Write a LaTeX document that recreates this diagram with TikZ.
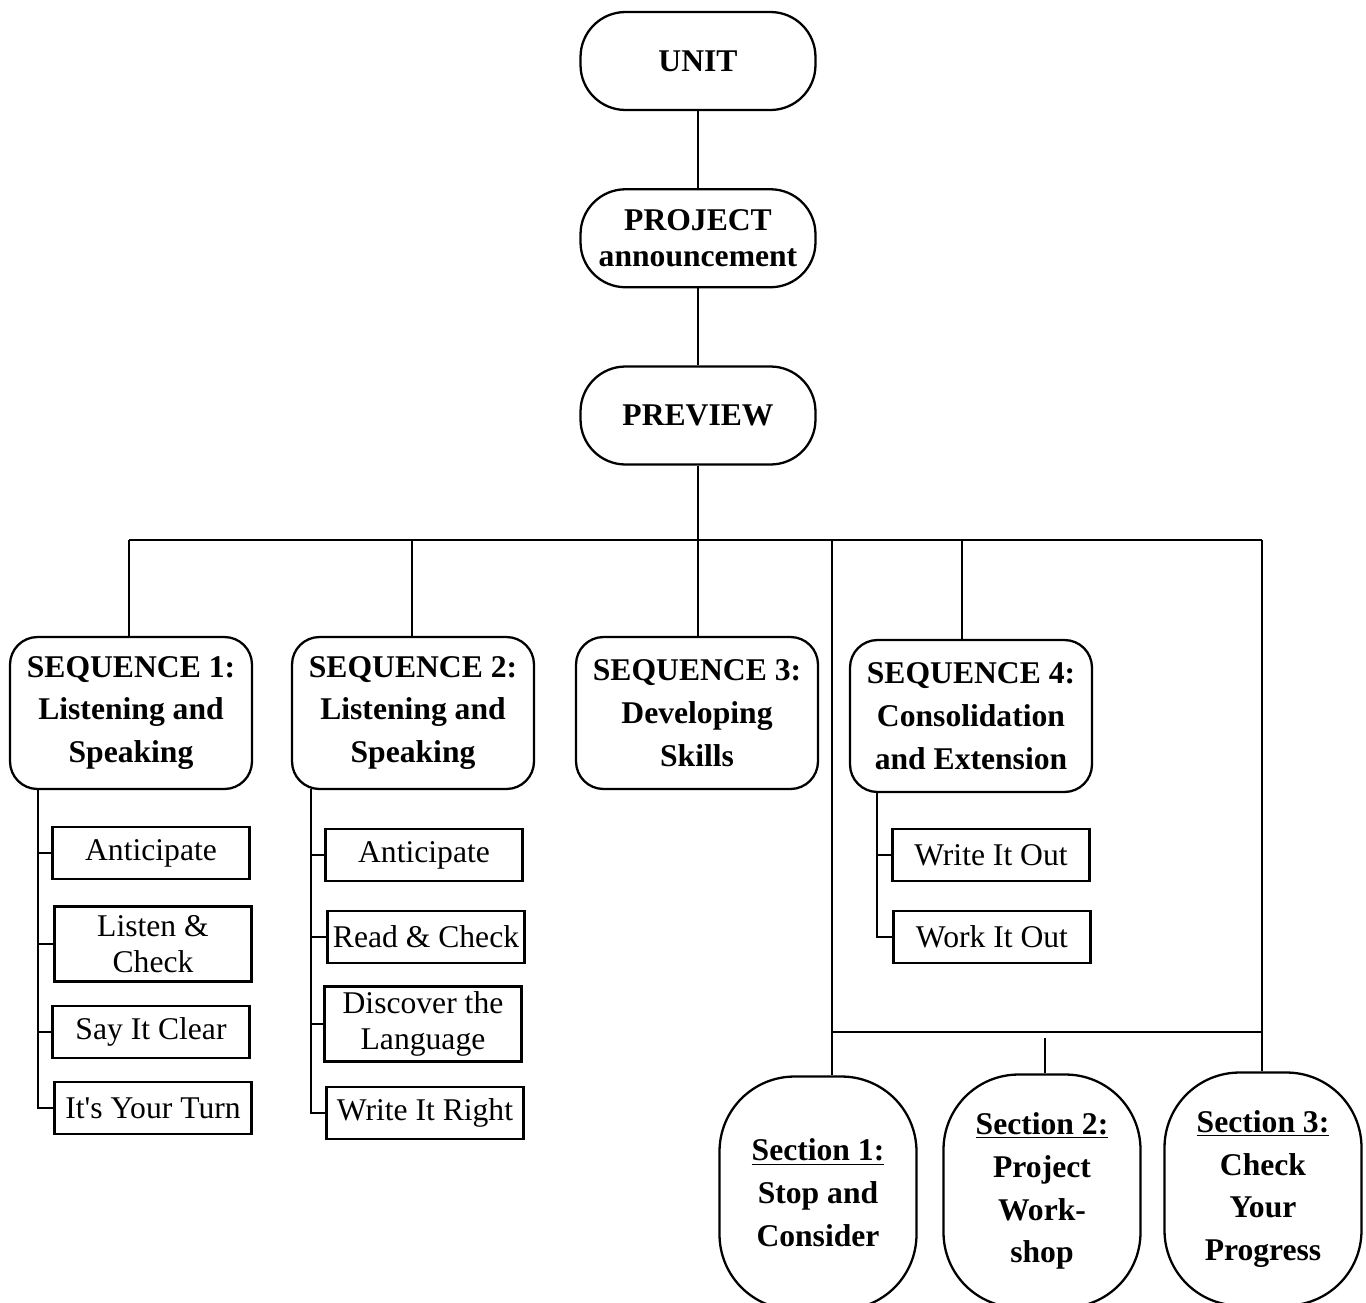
\documentclass[tikz,border=0pt]{standalone}
\usepackage{fontspec}
\setmainfont{Liberation Serif}
\usetikzlibrary{positioning}
\tikzset{
    topbox/.style={draw, line width=1.3pt, rounded corners=0.9cm, minimum width=4.7cm, minimum height=1.96cm, align=center, inner sep=1pt, font=\bfseries\fontsize{18}{21}\selectfont},
    seqbox/.style={draw, line width=1.3pt, rounded corners=0.55cm, minimum width=4.84cm, minimum height=3.04cm, align=center, inner sep=1pt, font=\bfseries\fontsize{18}{24.4}\selectfont},
    subbox/.style={draw, line width=1.3pt, minimum width=3.94cm, minimum height=1.04cm, align=center, inner sep=1pt, font=\fontsize{18}{20.5}\selectfont},
    secbox/.style={draw, line width=1.3pt, rounded corners=1.5cm, minimum width=3.94cm, minimum height=4.66cm, align=center, inner sep=1pt, font=\bfseries\fontsize{18}{24.4}\selectfont},
    link/.style={line width=1.1pt}
}

\begin{document}
\begin{tikzpicture}[x=0.02cm, y=-0.02cm]
    \path[use as bounding box, clip] (0,0) rectangle (1366,1302);

    % unit, project, preview
    \node[topbox] (unit) at (698,61) {UNIT};
    \node[topbox, below=1.54cm of unit] (proj) {PROJECT\\announcement};
    \node[topbox, below=1.54cm of proj] (prev) {PREVIEW};

    % sequences
    \node[seqbox] (seq1) at (131,713) {SEQUENCE 1:\\Listening and\\Speaking};
    \node[seqbox] (seq2) at (413,713) {SEQUENCE 2:\\Listening and\\Speaking};
    \node[seqbox] (seq3) at (697,713) {SEQUENCE 3:\\Developing\\Skills};
    \node[seqbox] (seq4) at (971,716) {SEQUENCE 4:\\Consolidation\\and Extension};

    % steps of each sequence
    \node[subbox] (a1) at (151,853) {Anticipate};
    \node[subbox, minimum height=1.5cm] (a2) at (153,944) {Listen \&\\Check};
    \node[subbox] (a3) at (151,1032) {Say It Clear};
    \node[subbox] (a4) at (153,1108) {It\textquotesingle s Your Turn};

    \node[subbox] (b1) at (424,855) {Anticipate};
    \node[subbox] (b2) at (426,937) {Read \& Check};
    \node[subbox, minimum height=1.5cm] (b3) at (423,1024) {Discover the\\Language};
    \node[subbox] (b4) at (425,1113) {Write It Right};

    \node[subbox] (c1) at (991,855) {Write It Out};
    \node[subbox] (c2) at (992,937) {Work It Out};

    % sections
    \node[secbox] (sec1) at (818,1193) {\underline{Section 1:}\\Stop and\\Consider};
    \node[secbox] (sec2) at (1042,1191) {\underline{Section 2:}\\Project\\Work-\\shop};
    \node[secbox] (sec3) at (1263,1189) {\underline{Section 3:}\\Check\\Your\\Progress};

    % tree lines
    \coordinate (hub) at (698,540);
    \coordinate (d1) at (129,540);
    \coordinate (d2) at (412,540);
    \coordinate (d4) at (962,540);
    \coordinate (d5) at (832,540);
    \coordinate (d6) at (1262,540);

    \draw[link] (unit) -- (proj);
    \draw[link] (proj) -- (prev);
    \draw[link] (prev) -- (hub);
    \draw[link] (d1) -- (d6);
    \draw[link] (d1) -- (d1 |- seq1.north);
    \draw[link] (d2) -- (d2 |- seq2.north);
    \draw[link] (hub) -- (hub |- seq3.north);
    \draw[link] (d4) -- (d4 |- seq4.north);
    \draw[link] (d5) -- (d5 |- sec1.north);
    \draw[link] (d6) -- (d6 |- sec3.north);

    \coordinate (sb) at (832,1032);
    \coordinate (m2) at (1045,1038);
    \draw[link] (sb) -- (sb -| d6);
    \draw[link] (m2) -- (m2 |- sec2.north);

    % spines
    \coordinate (sp1) at (38,789);
    \coordinate (sp2) at (311,789);
    \coordinate (sp4) at (877,792);
    \draw[link] (sp1) |- (a4.west);
    \foreach \n in {a1,a2,a3}
        \draw[link] (sp1 |- \n.west) -- (\n.west);
    \draw[link] (sp2) |- (b4.west);
    \foreach \n in {b1,b2,b3}
        \draw[link] (sp2 |- \n.west) -- (\n.west);
    \draw[link] (sp4) |- (c2.west);
    \draw[link] (sp4 |- c1.west) -- (c1.west);
\end{tikzpicture}
\end{document}
